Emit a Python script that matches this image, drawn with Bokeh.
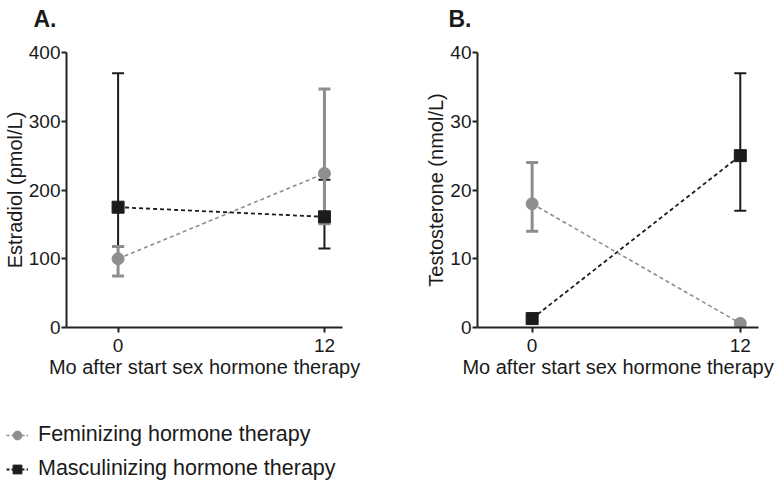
import math
from bokeh.plotting import figure
from bokeh.models import (ColumnDataSource, Range1d, FixedTicker, Whisker, TeeHead,
                          Legend, LegendItem, Label)
from bokeh.layouts import column, row
from bokeh.embed import file_html
from bokeh.resources import INLINE

NaN = float("nan")

months = [0, 12]
x_ticks = [0, 12]

# Panel A: estradiol (pmol/L)
estradiol_fem = [100, 224]
estradiol_fem_lo = [75, 151]
estradiol_fem_hi = [118, 347]
estradiol_masc = [175, 161]
estradiol_masc_lo = [118, 115]
estradiol_masc_hi = [370, 215]
estradiol_ticks = [0, 100, 200, 300, 400]

# Panel B: testosterone (nmol/L)
testo_fem = [18, 0.6]
testo_fem_lo = [14, NaN]
testo_fem_hi = [24, NaN]
testo_masc = [1.3, 25]
testo_masc_lo = [NaN, 17]
testo_masc_hi = [NaN, 37]
testo_ticks = [0, 10, 20, 30, 40]

series_names = ["Feminizing hormone therapy", "Masculinizing hormone therapy"]
panel_titles = ["A.", "B."]

GRAY = "#8e8e8e"
BLACK = "#1c1c1c"
AXIS = "#222222"
FONT = "Liberation Sans"


def style_axes(p, yticks, ylabel):
    for ax in (p.xaxis[0], p.yaxis[0]):
        ax.axis_line_width = 2
        ax.axis_line_color = AXIS
        ax.major_tick_line_width = 2
        ax.major_tick_line_color = AXIS
        ax.major_tick_in = 0
        ax.major_tick_out = 5
        ax.minor_tick_line_color = None
        ax.major_label_text_font = FONT
        ax.major_label_text_font_size = "19px"
        ax.major_label_text_color = "#1a1a1a"
        ax.axis_label_text_font = FONT
        ax.axis_label_text_font_size = "20px"
        ax.axis_label_text_font_style = "normal"
        ax.axis_label_text_color = "#1a1a1a"
    p.xaxis.ticker = FixedTicker(ticks=x_ticks)
    p.yaxis.ticker = FixedTicker(ticks=yticks)
    p.xaxis.axis_label = "Mo after start sex hormone therapy"
    p.yaxis.axis_label = ylabel
    p.xaxis.major_label_standoff = 6
    p.xaxis.axis_label_standoff = 1
    p.yaxis.major_label_standoff = 1
    p.yaxis.axis_label_standoff = 0
    p.xgrid.grid_line_color = None
    p.ygrid.grid_line_color = None
    p.outline_line_color = None


def draw_panel(p, fem, fem_lo, fem_hi, masc, masc_lo, masc_hi):
    src_f = ColumnDataSource(dict(x=months, y=fem, lo=fem_lo, hi=fem_hi))
    src_m = ColumnDataSource(dict(x=months, y=masc, lo=masc_lo, hi=masc_hi))
    wm = Whisker(base="x", lower="lo", upper="hi", source=src_m,
                 line_color=BLACK, line_width=2,
                 upper_head=TeeHead(size=12, line_color=BLACK, line_width=2),
                 lower_head=TeeHead(size=12, line_color=BLACK, line_width=2))
    wf = Whisker(base="x", lower="lo", upper="hi", source=src_f,
                 line_color=GRAY, line_width=3,
                 upper_head=TeeHead(size=12, line_color=GRAY, line_width=3),
                 lower_head=TeeHead(size=12, line_color=GRAY, line_width=3))
    p.add_layout(wm)
    p.add_layout(wf)
    p.line("x", "y", source=src_f, line_color=GRAY, line_width=1.6, line_dash="4 3")
    p.scatter("x", "y", source=src_f, marker="circle", size=12,
              fill_color=GRAY, line_color=GRAY)
    p.line("x", "y", source=src_m, line_color=BLACK, line_width=1.8, line_dash="4 3")
    p.scatter("x", "y", source=src_m, marker="square", size=12,
              fill_color=BLACK, line_color=BLACK)


def blank_strip(width, height, xr, yr):
    s = figure(width=width, height=height, output_backend="svg", toolbar_location=None,
               x_range=xr, y_range=yr, x_axis_location=None, y_axis_location=None,
               min_border_left=0, min_border_right=0, min_border_top=0,
               min_border_bottom=0)
    s.xgrid.grid_line_color = None
    s.ygrid.grid_line_color = None
    s.outline_line_color = None
    return s


# Title strip (pixel-scaled ranges)
pT = blank_strip(775, 30, Range1d(0, 775), Range1d(0, 30))
for txt, xpos in zip(panel_titles, [33, 448]):
    pT.add_layout(Label(x=xpos, y=12, text=txt, text_font=FONT,
                        text_font_size="23px", text_font_style="bold",
                        text_color="#1a1a1a", text_baseline="alphabetic",
                        text_align="left"))

pA = figure(width=388, height=360, output_backend="svg", toolbar_location=None,
            x_range=Range1d(-3.0, 13.05), y_range=Range1d(0, 400),
            min_border_left=65, min_border_right=46, min_border_top=22,
            min_border_bottom=63)
style_axes(pA, estradiol_ticks, "Estradiol (pmol/L)")
draw_panel(pA, estradiol_fem, estradiol_fem_lo, estradiol_fem_hi,
           estradiol_masc, estradiol_masc_lo, estradiol_masc_hi)

pB = figure(width=387, height=360, output_backend="svg", toolbar_location=None,
            x_range=Range1d(-3.15, 13.05), y_range=Range1d(0, 40),
            min_border_left=89, min_border_right=17, min_border_top=21,
            min_border_bottom=63)
style_axes(pB, testo_ticks, "Testosterone (nmol/L)")
draw_panel(pB, testo_fem, testo_fem_lo, testo_fem_hi,
           testo_masc, testo_masc_lo, testo_masc_hi)

# Legend panel: proxy renderers use the real series but lie outside the view
pL = blank_strip(775, 91, Range1d(100, 101), Range1d(100, 101))
leg_f = ColumnDataSource(dict(x=months, y=estradiol_fem))
leg_m = ColumnDataSource(dict(x=months, y=estradiol_masc))
lf = pL.line("x", "y", source=leg_f, line_color=GRAY, line_width=1.6, line_dash="3 2")
sf = pL.scatter("x", "y", source=leg_f, marker="circle", size=13,
                fill_color=GRAY, line_color=GRAY)
lm = pL.line("x", "y", source=leg_m, line_color=BLACK, line_width=1.8, line_dash="3 2")
sm = pL.scatter("x", "y", source=leg_m, marker="square", size=13,
                fill_color=BLACK, line_color=BLACK)
legend = Legend(items=[LegendItem(label=series_names[0], renderers=[lf, sf]),
                       LegendItem(label=series_names[1], renderers=[lm, sm])],
                location=(6, 0), orientation="vertical",
                padding=0, margin=0, spacing=9,
                glyph_width=22, glyph_height=24, label_height=24,
                label_standoff=10,
                label_text_font=FONT, label_text_font_size="21.5px",
                label_text_color="#1a1a1a",
                border_line_color=None, background_fill_alpha=0)
pL.add_layout(legend)

layout = column(pT, row(pA, pB), pL)

open("out.html", "w").write(file_html(layout, INLINE))
